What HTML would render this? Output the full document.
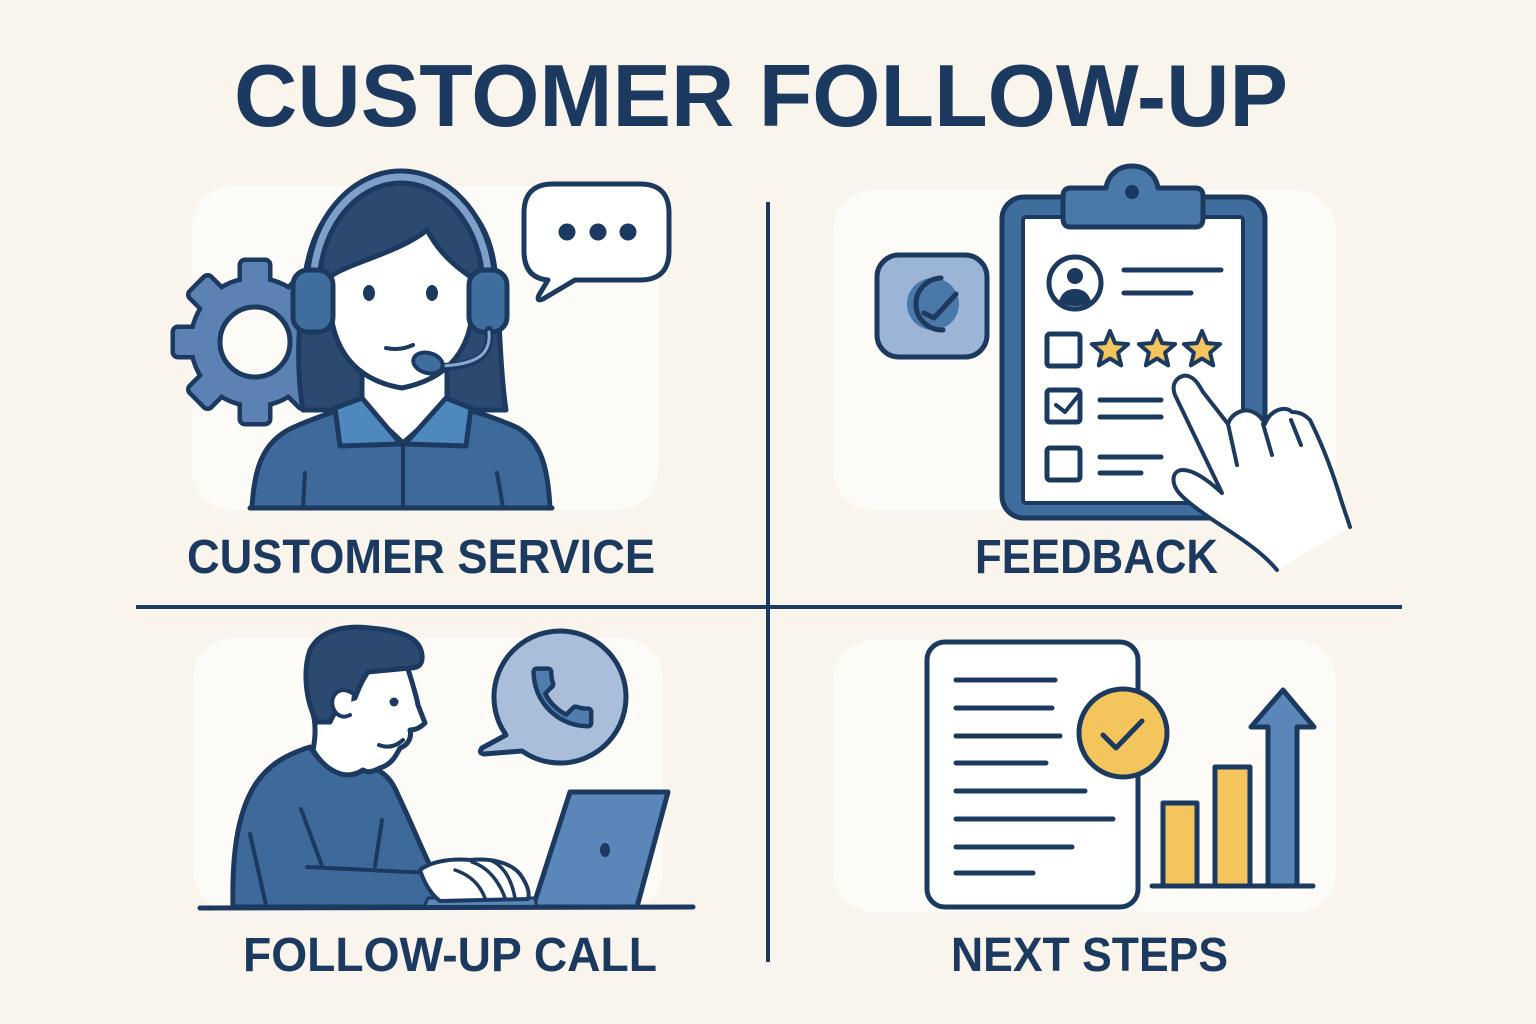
<!DOCTYPE html>
<html>
<head>
<meta charset="utf-8">
<style>
html,body{margin:0;padding:0;background:#f9f4ec;}
svg{display:block;}
text{font-family:"Liberation Sans","DejaVu Sans",sans-serif;font-weight:bold;fill:#1c3a5f;}
</style>
</head>
<body>
<svg width="1536" height="1024" viewBox="0 0 1536 1024" xmlns="http://www.w3.org/2000/svg">
<rect x="0" y="0" width="1536" height="1024" fill="#f9f4ec"/>

<!-- panels -->
<rect x="192" y="186" width="466" height="324" rx="40" fill="#fdfbf7"/>
<rect x="833" y="190" width="503" height="320" rx="40" fill="#fdfbf7"/>
<rect x="193" y="638" width="470" height="272" rx="40" fill="#fdfbf7"/>
<rect x="833" y="640" width="503" height="272" rx="40" fill="#fdfbf7"/>

<!-- title -->
<text x="234" y="126" font-size="88" textLength="1054" lengthAdjust="spacingAndGlyphs">CUSTOMER FOLLOW-UP</text>

<!-- dividers -->
<line x1="768" y1="202" x2="768" y2="962" stroke="#1c3a5f" stroke-width="4"/>
<line x1="136" y1="607" x2="1402" y2="607" stroke="#1c3a5f" stroke-width="4"/>

<!-- labels -->
<text x="187" y="573" font-size="48" textLength="468" lengthAdjust="spacingAndGlyphs">CUSTOMER SERVICE</text>
<text x="975" y="573" font-size="48" textLength="243" lengthAdjust="spacingAndGlyphs">FEEDBACK</text>
<text x="243" y="971" font-size="48" textLength="414" lengthAdjust="spacingAndGlyphs">FOLLOW-UP CALL</text>
<text x="951" y="971" font-size="48" textLength="277" lengthAdjust="spacingAndGlyphs">NEXT STEPS</text>

<!-- ============ TOP LEFT: customer service ============ -->
<g transform="translate(255,342)">
  <g stroke="#1c3a5f" stroke-width="9" stroke-linejoin="round" fill="#1c3a5f">
    <circle r="62"/>
    <rect x="-13" y="-80" width="26" height="30" rx="3"/>
    <rect x="-13" y="-80" width="26" height="30" rx="3" transform="rotate(45)"/>
    <rect x="-13" y="-80" width="26" height="30" rx="3" transform="rotate(90)"/>
    <rect x="-13" y="-80" width="26" height="30" rx="3" transform="rotate(135)"/>
    <rect x="-13" y="-80" width="26" height="30" rx="3" transform="rotate(180)"/>
    <rect x="-13" y="-80" width="26" height="30" rx="3" transform="rotate(225)"/>
    <rect x="-13" y="-80" width="26" height="30" rx="3" transform="rotate(270)"/>
    <rect x="-13" y="-80" width="26" height="30" rx="3" transform="rotate(315)"/>
  </g>
  <g fill="#5b82b3">
    <circle r="62"/>
    <rect x="-13" y="-80" width="26" height="30" rx="3"/>
    <rect x="-13" y="-80" width="26" height="30" rx="3" transform="rotate(45)"/>
    <rect x="-13" y="-80" width="26" height="30" rx="3" transform="rotate(90)"/>
    <rect x="-13" y="-80" width="26" height="30" rx="3" transform="rotate(135)"/>
    <rect x="-13" y="-80" width="26" height="30" rx="3" transform="rotate(180)"/>
    <rect x="-13" y="-80" width="26" height="30" rx="3" transform="rotate(225)"/>
    <rect x="-13" y="-80" width="26" height="30" rx="3" transform="rotate(270)"/>
    <rect x="-13" y="-80" width="26" height="30" rx="3" transform="rotate(315)"/>
  </g>
  <circle r="35" fill="#fdfbf7" stroke="#1c3a5f" stroke-width="5"/>
</g>

<path d="M303,410 C296,370 298,320 305,275 C315,210 350,182 400,182 C450,182 488,210 495,270 C500,320 500,370 506,410 Z" fill="#2c4a70" stroke="#1c3a5f" stroke-width="5" stroke-linejoin="round"/>
<path d="M362,370 L362,405 L403,443 L447,405 L447,370 Z" fill="#ffffff" stroke="#1c3a5f" stroke-width="5" stroke-linejoin="round"/>
<path d="M252,508 C254,470 262,442 292,428 C318,416 342,409 362,404 L403,443 L447,404 C467,409 492,416 518,428 C542,442 548,470 550,508 Z" fill="#3d6a9a" stroke="#1c3a5f" stroke-width="5" stroke-linejoin="round"/>
<path d="M335,408 L362,398 L401,444 L340,446 Z" fill="#4f88bd" stroke="#1c3a5f" stroke-width="5" stroke-linejoin="round"/>
<path d="M471,408 L446,398 L405,444 L466,446 Z" fill="#4f88bd" stroke="#1c3a5f" stroke-width="5" stroke-linejoin="round"/>
<line x1="403" y1="444" x2="403" y2="508" stroke="#1c3a5f" stroke-width="4"/>
<line x1="305" y1="473" x2="303" y2="507" stroke="#1c3a5f" stroke-width="4" stroke-linecap="round"/>
<line x1="497" y1="473" x2="503" y2="507" stroke="#1c3a5f" stroke-width="4" stroke-linecap="round"/>
<line x1="250" y1="508" x2="552" y2="508" stroke="#1c3a5f" stroke-width="5" stroke-linecap="round"/>
<path d="M331,276 C352,262 400,252 427,230 C440,254 455,266 472,278 C478,332 462,376 402,388 C342,378 325,332 331,276 Z" fill="#ffffff" stroke="#1c3a5f" stroke-width="5" stroke-linejoin="round"/>
<ellipse cx="369" cy="293" rx="6" ry="8" fill="#1c3a5f"/>
<ellipse cx="432" cy="293" rx="6" ry="8" fill="#1c3a5f"/>
<path d="M386,348 Q400,351 413,345" fill="none" stroke="#1c3a5f" stroke-width="4" stroke-linecap="round"/>
<path d="M313,287 A88,110 0 0 1 489,287" fill="none" stroke="#1c3a5f" stroke-width="17"/>
<path d="M313,287 A88,110 0 0 1 489,287" fill="none" stroke="#7f9fcb" stroke-width="7"/>
<rect x="293" y="270" width="40" height="62" rx="15" fill="#3f6e9e" stroke="#1c3a5f" stroke-width="5"/>
<rect x="469" y="270" width="38" height="62" rx="15" fill="#3f6e9e" stroke="#1c3a5f" stroke-width="5"/>
<path d="M489,330 C492,355 478,366 440,367" fill="none" stroke="#1c3a5f" stroke-width="8" stroke-linecap="round"/>
<path d="M489,332 C491,354 478,364 442,366" fill="none" stroke="#8aa8d0" stroke-width="3" stroke-linecap="round"/>
<ellipse cx="428" cy="363" rx="15" ry="10" transform="rotate(15 428 363)" fill="#3f6e9e" stroke="#1c3a5f" stroke-width="4"/>

<path d="M553,184 H640 Q669,184 669,213 V251 Q669,280 640,280 H575 L543,299 Q536,302 539,295 L548,280 Q524,278 524,251 V213 Q524,184 553,184 Z" fill="#ffffff" stroke="#1c3a5f" stroke-width="5" stroke-linejoin="round"/>
<circle cx="567" cy="232" r="8.5" fill="#1c3a5f"/>
<circle cx="598" cy="232" r="8.5" fill="#1c3a5f"/>
<circle cx="628" cy="232" r="8.5" fill="#1c3a5f"/>

<!-- ============ TOP RIGHT: feedback ============ -->
<rect x="877" y="255" width="110" height="102" rx="22" fill="#9cb4d6" stroke="#1c3a5f" stroke-width="5"/>
<circle cx="933" cy="304" r="26" fill="#4a78a8"/>
<path d="M941,278 A26,26 0 1 0 943,330" fill="none" stroke="#1c3a5f" stroke-width="5" stroke-linecap="round"/>
<path d="M924,313 L934,318 L956,294" fill="none" stroke="#1c3a5f" stroke-width="5" stroke-linecap="round" stroke-linejoin="round"/>

<rect x="1002" y="197" width="263" height="321" rx="22" fill="#3f6e9e" stroke="#1c3a5f" stroke-width="5"/>
<rect x="1023" y="217" width="220" height="286" rx="3" fill="#ffffff" stroke="#1c3a5f" stroke-width="4"/>
<path d="M1070,227 L1196,227 Q1203,227 1203,218 L1203,196 Q1203,188 1195,188 L1158,188 C1156,175 1146,166 1132,166 C1118,166 1108,175 1106,188 L1071,188 Q1063,188 1063,196 L1063,218 Q1063,227 1070,227 Z" fill="#4a78a8" stroke="#1c3a5f" stroke-width="5" stroke-linejoin="round"/>
<circle cx="1132" cy="192" r="7" fill="#1c3a5f"/>
<circle cx="1075" cy="283" r="26" fill="#ffffff" stroke="#1c3a5f" stroke-width="5"/>
<circle cx="1075" cy="276" r="8" fill="#1c3a5f"/>
<path d="M1059,301 C1062,292 1068,289 1075,289 C1082,289 1088,292 1091,301 C1082,308 1068,308 1059,301 Z" fill="#1c3a5f"/>
<g stroke="#1c3a5f" stroke-width="5" stroke-linecap="round">
  <line x1="1124" y1="270" x2="1221" y2="270"/>
  <line x1="1124" y1="293" x2="1191" y2="293"/>
  <line x1="1100" y1="400" x2="1161" y2="400"/>
  <line x1="1100" y1="417" x2="1161" y2="417"/>
  <line x1="1100" y1="457" x2="1161" y2="457"/>
  <line x1="1100" y1="473" x2="1141" y2="473"/>
</g>
<g fill="#ffffff" stroke="#1c3a5f" stroke-width="5">
  <rect x="1047" y="334" width="33" height="32" rx="3"/>
  <rect x="1047" y="390" width="33" height="32" rx="3"/>
  <rect x="1047" y="448" width="33" height="32" rx="3"/>
</g>
<path d="M1056,405 L1065,412 L1078,396" fill="none" stroke="#1c3a5f" stroke-width="4" stroke-linecap="round" stroke-linejoin="round"/>
<g fill="#f3c55c" stroke="#1c3a5f" stroke-width="4" stroke-linejoin="round">
  <polygon transform="translate(1110,350)" points="0,-19 5,-6.9 18.1,-5.9 8.1,2.6 11.2,15.4 0,8.5 -11.2,15.4 -8.1,2.6 -18.1,-5.9 -5,-6.9"/>
  <polygon transform="translate(1157,350)" points="0,-19 5,-6.9 18.1,-5.9 8.1,2.6 11.2,15.4 0,8.5 -11.2,15.4 -8.1,2.6 -18.1,-5.9 -5,-6.9"/>
  <polygon transform="translate(1202,350)" points="0,-19 5,-6.9 18.1,-5.9 8.1,2.6 11.2,15.4 0,8.5 -11.2,15.4 -8.1,2.6 -18.1,-5.9 -5,-6.9"/>
</g>
<path d="M1277,570 C1262,552 1240,538 1225,528 C1205,515 1188,503 1180,494 C1170,483 1172,470 1183,470 C1195,470 1210,482 1222,493 L1175,395 C1170,382 1180,374 1188,376 C1195,378 1199,385 1203,392 L1228,424 C1232,412 1245,408 1253,412 C1258,414 1262,418 1265,424 C1270,410 1285,405 1292,412 C1300,412 1305,415 1310,420 C1320,440 1330,465 1338,490 C1344,510 1348,520 1350,527 Z" fill="#ffffff"/>
<path d="M1277,570 C1262,552 1240,538 1225,528 C1205,515 1188,503 1180,494 C1170,483 1172,470 1183,470 C1195,470 1210,482 1222,493 L1175,395 C1170,382 1180,374 1188,376 C1195,378 1199,385 1203,392 L1228,424 C1232,412 1245,408 1253,412 C1258,414 1262,418 1265,424 C1270,410 1285,405 1292,412 C1300,412 1305,415 1310,420 C1320,440 1330,465 1338,490 C1344,510 1348,520 1350,527" fill="none" stroke="#1c3a5f" stroke-width="4" stroke-linecap="round" stroke-linejoin="round"/>
<g stroke="#1c3a5f" stroke-width="4" stroke-linecap="round">
  <line x1="1228" y1="424" x2="1237" y2="465"/>
  <line x1="1263" y1="424" x2="1272" y2="455"/>
  <line x1="1291" y1="420" x2="1301" y2="445"/>
</g>

<!-- ============ BOTTOM LEFT: follow-up call ============ -->
<path d="M506,735 A66,66 0 1 1 522,751 L484,754 Q478,753 482,748 Z" fill="#a9bedb" stroke="#1c3a5f" stroke-width="5" stroke-linejoin="round"/>
<path transform="translate(524,659) scale(3.2)" d="M6.62 10.79c1.44 2.83 3.76 5.14 6.59 6.59l2.2-2.2c.27-.27.67-.36 1.020-.24 1.12.37 2.330.57 3.570.57.55 0 1 .45 1 1V20c0 .55-.45 1-1 1-9.39 0-17-7.61-17-17 0-.55.45-1 1-1h3.5c.55 0 1 .45 1 1 0 1.25.2 2.45.57 3.57.11.35.03.74-.25 1.02l-2.2 2.2z" fill="#4f7eae" stroke="#1c3a5f" stroke-width="1.4" stroke-linejoin="round"/>

<path d="M233,907 C232,860 236,815 255,785 C268,765 285,755 310,747 C325,770 345,782 368,768 C378,768 390,775 398,795 C410,820 420,845 432,870 L440,907 Z" fill="#3d6a9a" stroke="#1c3a5f" stroke-width="5" stroke-linejoin="round"/>
<g stroke="#1c3a5f" stroke-width="4" stroke-linecap="round" fill="none">
  <line x1="250" y1="834" x2="266" y2="905"/>
  <line x1="301" y1="809" x2="322" y2="866"/>
  <line x1="382" y1="820" x2="375" y2="866"/>
  <line x1="307" y1="867" x2="430" y2="873"/>
</g>
<path d="M313,750 C316,735 316,722 312,710 L330,680 L405,660 C410,675 415,690 418,705 L425,723 C420,728 415,730 410,730 C412,738 408,745 400,748 C395,758 390,765 380,768 C372,772 368,773 363,770 C345,782 325,770 313,750 Z" fill="#ffffff" stroke="#1c3a5f" stroke-width="5" stroke-linejoin="round"/>
<path d="M317,722 C305,700 303,670 310,650 C320,630 345,625 370,628 C395,630 420,635 422,655 C423,665 418,668 410,668 L368,672 C362,680 358,690 355,698 C345,700 335,710 330,722 Z" fill="#2c4a70" stroke="#1c3a5f" stroke-width="5" stroke-linejoin="round"/>
<path d="M352,693 C338,684 328,698 334,710 C338,717 344,718 350,715" fill="#ffffff" stroke="#1c3a5f" stroke-width="4" stroke-linecap="round"/>
<circle cx="394" cy="702" r="4.5" fill="#1c3a5f"/>
<path d="M379,745 Q392,750 403,740" fill="none" stroke="#1c3a5f" stroke-width="4" stroke-linecap="round"/>
<path d="M570,792 L668,792 L637,907 L533,907 Z" fill="#5b86b9" stroke="#1c3a5f" stroke-width="5" stroke-linejoin="round"/>
<ellipse cx="605" cy="850" rx="5" ry="7" fill="#1c3a5f"/>
<path d="M428,898 L535,898 L537,907 L424,907 Z" fill="#5b86b9" stroke="#1c3a5f" stroke-width="3" stroke-linejoin="round"/>
<path d="M420,870 C430,862 450,858 470,860 C490,858 510,862 520,874 C527,884 530,893 528,899 L440,901 C432,895 425,885 420,870 Z" fill="#ffffff" stroke="#1c3a5f" stroke-width="4" stroke-linejoin="round"/>
<g fill="none" stroke="#1c3a5f" stroke-width="3.5" stroke-linecap="round">
  <path d="M455,870 C470,875 480,885 485,898"/>
  <path d="M472,862 C490,868 500,884 505,898"/>
  <path d="M490,860 C505,866 512,882 515,898"/>
</g>
<line x1="200" y1="908" x2="693" y2="907" stroke="#1c3a5f" stroke-width="5" stroke-linecap="round"/>

<!-- ============ BOTTOM RIGHT: next steps ============ -->
<rect x="927" y="642" width="211" height="265" rx="18" fill="#ffffff" stroke="#1c3a5f" stroke-width="5"/>
<g stroke="#1c3a5f" stroke-width="5" stroke-linecap="round">
  <line x1="956" y1="680" x2="1055" y2="680"/>
  <line x1="956" y1="708" x2="1052" y2="708"/>
  <line x1="956" y1="736" x2="1060" y2="736"/>
  <line x1="956" y1="763" x2="1046" y2="763"/>
  <line x1="956" y1="791" x2="1085" y2="791"/>
  <line x1="956" y1="819" x2="1113" y2="819"/>
  <line x1="956" y1="847" x2="1072" y2="847"/>
  <line x1="956" y1="873" x2="1033" y2="873"/>
</g>
<circle cx="1123" cy="733" r="44" fill="#f3c55c" stroke="#1c3a5f" stroke-width="5"/>
<path d="M1103,735 L1116,748 L1142,721" fill="none" stroke="#1c3a5f" stroke-width="5" stroke-linecap="round" stroke-linejoin="round"/>
<rect x="1163" y="803" width="34" height="83" fill="#f3c55c" stroke="#1c3a5f" stroke-width="5" stroke-linejoin="round"/>
<rect x="1215" y="767" width="35" height="119" fill="#f3c55c" stroke="#1c3a5f" stroke-width="5" stroke-linejoin="round"/>
<path d="M1268,886 L1268,727 L1251,727 L1283,690 L1314,727 L1297,727 L1297,886 Z" fill="#5b86b9" stroke="#1c3a5f" stroke-width="5" stroke-linejoin="round"/>
<line x1="1152" y1="886" x2="1313" y2="886" stroke="#1c3a5f" stroke-width="5" stroke-linecap="round"/>
</svg>
</body>
</html>
